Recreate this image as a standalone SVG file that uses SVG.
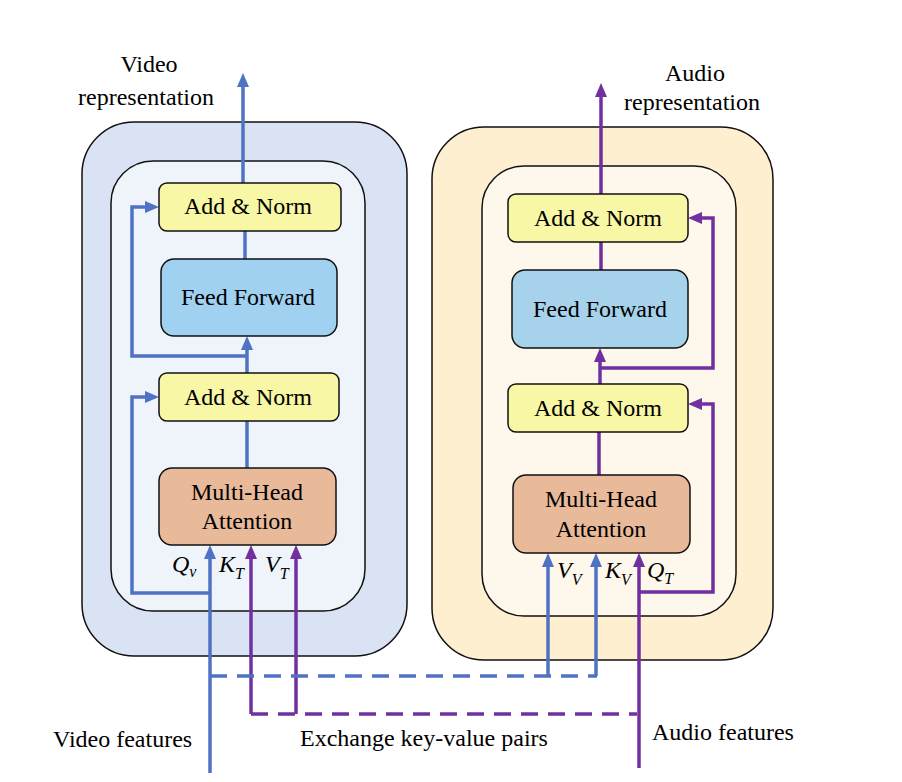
<svg xmlns="http://www.w3.org/2000/svg" width="902" height="782" viewBox="0 0 902 782" font-family="'Liberation Serif', 'DejaVu Serif', serif">
<defs>
<style>
text{font-family:'Liberation Serif','DejaVu Serif',serif;font-size:24px;fill:#000}
.c{text-anchor:middle}
.m{font-style:italic}
.s{font-size:16px}
.box{stroke:#111;stroke-width:1.5}
.an{fill:#F8F7A6}
.ffl{fill:#A0D1F0}
.ffr{fill:#A6D2EB}
.mha{fill:#E9BA9A}
.b{stroke:#4F72C4;stroke-width:3.5;fill:none}
.p{stroke:#7030A0;stroke-width:3.5;fill:none}
.d{stroke-dasharray:17 10}
</style>
<marker id="ab" markerUnits="userSpaceOnUse" markerWidth="14" markerHeight="12" viewBox="0 0 14 12" refX="4" refY="6" orient="auto"><path d="M0,0 L14,6 L0,12 z" fill="#4F72C4"/></marker>
<marker id="ap" markerUnits="userSpaceOnUse" markerWidth="14" markerHeight="12" viewBox="0 0 14 12" refX="4" refY="6" orient="auto"><path d="M0,0 L14,6 L0,12 z" fill="#7030A0"/></marker>
</defs>
<rect width="902" height="782" fill="#fff"/>

<g id="video-panel">
<rect x="82" y="122" width="325" height="534" rx="52" fill="#DAE3F3" class="box"/>
<rect x="111" y="161" width="254" height="450" rx="42" fill="#EFF4FA" class="box"/>
</g>
<g id="audio-panel">
<rect x="432" y="127" width="341" height="533" rx="52" fill="#FDEFCF" class="box"/>
<rect x="482" y="166" width="254" height="450" rx="42" fill="#FEF7EC" class="box"/>
</g>

<g id="connectors">
<path class="b" d="M243,183 V83" marker-end="url(#ab)"/>
<path class="b" d="M245,231 V259"/>
<path class="b" d="M247,373 V346" marker-end="url(#ab)"/>
<path class="b" d="M247,356 H132 V207 H149" marker-end="url(#ab)"/>
<path class="b" d="M247,421 V468"/>
<path class="b" d="M210,593 H132 V397 H149" marker-end="url(#ab)"/>
<path class="b" d="M210,773 V555" marker-end="url(#ab)"/>
<path class="p" d="M251,714 V555" marker-end="url(#ap)"/>
<path class="p" d="M296,714 V555" marker-end="url(#ap)"/>
<path class="b d" d="M210,676 H597"/>
<path class="p d" d="M251,714 H637"/>

<path class="p" d="M601,194 V93" marker-end="url(#ap)"/>
<path class="p" d="M601,242 V270"/>
<path class="p" d="M600,384 V358" marker-end="url(#ap)"/>
<path class="p" d="M600,368 H713 V218 H698" marker-end="url(#ap)"/>
<path class="p" d="M599,432 V475"/>
<path class="p" d="M639,592 H713 V404 H698" marker-end="url(#ap)"/>
<path class="b" d="M548,676 V563" marker-end="url(#ab)"/>
<path class="b" d="M596,676 V563" marker-end="url(#ab)"/>
<path class="p" d="M639,768 V563" marker-end="url(#ap)"/>
</g>

<g id="v-addnorm-top"><rect x="159" y="183" width="182" height="48" rx="8" class="box an"/><text x="248" y="214" class="c">Add &amp; Norm</text></g>
<g id="v-feedforward"><rect x="161" y="259" width="176" height="77" rx="13" class="box ffl"/><text x="248" y="305" class="c">Feed Forward</text></g>
<g id="v-addnorm-bottom"><rect x="159" y="373" width="180" height="48" rx="8" class="box an"/><text x="248" y="405" class="c">Add &amp; Norm</text></g>
<g id="v-mha"><rect x="159" y="468" width="177" height="77" rx="13" class="box mha"/><text x="247" y="500" class="c">Multi-Head</text><text x="247" y="529" class="c">Attention</text></g>

<g id="a-addnorm-top"><rect x="508" y="194" width="180" height="48" rx="8" class="box an"/><text x="598" y="226" class="c">Add &amp; Norm</text></g>
<g id="a-feedforward"><rect x="512" y="270" width="176" height="78" rx="13" class="box ffr"/><text x="600" y="317" class="c">Feed Forward</text></g>
<g id="a-addnorm-bottom"><rect x="508" y="384" width="180" height="48" rx="8" class="box an"/><text x="598" y="416" class="c">Add &amp; Norm</text></g>
<g id="a-mha"><rect x="513" y="475" width="177" height="78" rx="13" class="box mha"/><text x="601" y="507" class="c">Multi-Head</text><text x="601" y="537" class="c">Attention</text></g>

<g id="labels">
<text x="149" y="72" class="c">Video</text>
<text x="146" y="105" class="c">representation</text>
<text x="695" y="81" class="c">Audio</text>
<text x="692" y="110" class="c">representation</text>
<text x="53" y="747">Video features</text>
<text x="300" y="746">Exchange key-value pairs</text>
<text x="652" y="740">Audio features</text>
<text x="172" y="572" class="m">Q<tspan class="s" dy="5">v</tspan></text>
<text x="219" y="572" class="m">K<tspan class="s" dy="7">T</tspan></text>
<text x="265" y="572" class="m">V<tspan class="s" dy="7">T</tspan></text>
<text x="557" y="578" class="m">V<tspan class="s" dy="7">V</tspan></text>
<text x="605" y="578" class="m">K<tspan class="s" dy="7">V</tspan></text>
<text x="647" y="578" class="m">Q<tspan class="s" dy="6">T</tspan></text>
</g>
</svg>
